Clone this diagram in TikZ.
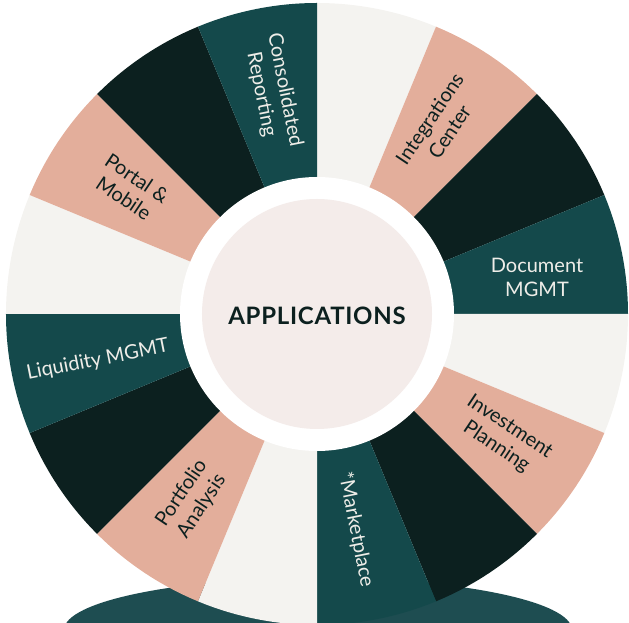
\documentclass[tikz,border=0pt]{standalone}
\usepackage{fontspec}
\setmainfont{Lato}
\definecolor{cream}{HTML}{F4F3F0}
\definecolor{salmon}{HTML}{E3AE9B}
\definecolor{darkgreen}{HTML}{0C201F}
\definecolor{deepteal}{HTML}{14494B}
\definecolor{basecol}{HTML}{1E4D51}
\definecolor{centerpink}{HTML}{F4ECEA}
\definecolor{lighttext}{HTML}{EEEDE8}
\tikzset{
  label/.style={align=center, font=\fontsize{20}{24}\selectfont, text=darkgreen, inner sep=1pt},
  lightlabel/.style={label, text=lighttext}
}
\begin{document}
\begin{tikzpicture}[x=1pt, y=1pt]
    \useasboundingbox (-317, -309) rectangle (312, 314);
    \clip (-317, -309) rectangle (312, 314);

    % 台を描く
    \fill[basecol] (1, -316) ellipse [x radius=254, y radius=52];

    % 扇形を塗る
    \fill[cream] (0, 0) -- (90:311) arc[start angle=90, end angle=67.5, radius=311] -- cycle;
    \fill[salmon] (0, 0) -- (67.5:311) arc[start angle=67.5, end angle=45, radius=311] -- cycle;
    \fill[darkgreen] (0, 0) -- (45:311) arc[start angle=45, end angle=22.5, radius=311] -- cycle;
    \fill[deepteal] (0, 0) -- (22.5:311) arc[start angle=22.5, end angle=0, radius=311] -- cycle;
    \fill[cream] (0, 0) -- (0:311) arc[start angle=0, end angle=-22.5, radius=311] -- cycle;
    \fill[salmon] (0, 0) -- (-22.5:311) arc[start angle=-22.5, end angle=-45, radius=311] -- cycle;
    \fill[darkgreen] (0, 0) -- (-45:311) arc[start angle=-45, end angle=-67.5, radius=311] -- cycle;
    \fill[deepteal] (0, 0) -- (-67.5:311) arc[start angle=-67.5, end angle=-90, radius=311] -- cycle;
    \fill[cream] (0, 0) -- (-90:311) arc[start angle=-90, end angle=-112.5, radius=311] -- cycle;
    \fill[salmon] (0, 0) -- (-112.5:311) arc[start angle=-112.5, end angle=-135, radius=311] -- cycle;
    \fill[darkgreen] (0, 0) -- (-135:311) arc[start angle=-135, end angle=-157.5, radius=311] -- cycle;
    \fill[deepteal] (0, 0) -- (-157.5:311) arc[start angle=-157.5, end angle=-180, radius=311] -- cycle;
    \fill[cream] (0, 0) -- (180:311) arc[start angle=180, end angle=157.5, radius=311] -- cycle;
    \fill[salmon] (0, 0) -- (157.5:311) arc[start angle=157.5, end angle=135, radius=311] -- cycle;
    \fill[darkgreen] (0, 0) -- (135:311) arc[start angle=135, end angle=112.5, radius=311] -- cycle;
    \fill[deepteal] (0, 0) -- (112.5:311) arc[start angle=112.5, end angle=90, radius=311] -- cycle;

    % 中の円
    \fill[white] (0, 0) circle (137);
    \fill[centerpink] (0, 0) circle (115);

    % 文字を入れる
    \node[font=\fontsize{24}{28}\selectfont\bfseries\addfontfeatures{LetterSpace=3}, text=darkgreen] (apps) at (0, -2) {APPLICATIONS};
    \node[lightlabel, rotate=-78.75] (report) at (101.25:226) {Consolidated\\Reporting};
    \node[label, rotate=56.25] (integ) at (57:225) {Integrations\\Center};
    \node[lightlabel] (docs) at (220, 37) {Document\\MGMT};
    \node[label, rotate=-33.75] (invest) at (-33.5:223) {Investment\\Planning};
    \node[lightlabel, rotate=-78.75] (market) at (-79.8:219) {*Marketplace};
    \node[label, rotate=56.25] (folio) at (-124:224) {Portfolio\\Analysis};
    \node[lightlabel, rotate=11.25] (liquid) at (191.9:224) {Liquidity MGMT};
    \node[label, rotate=-33.75] (portal) at (146:225) {Portal \&\\Mobile};

\end{tikzpicture}
\end{document}
